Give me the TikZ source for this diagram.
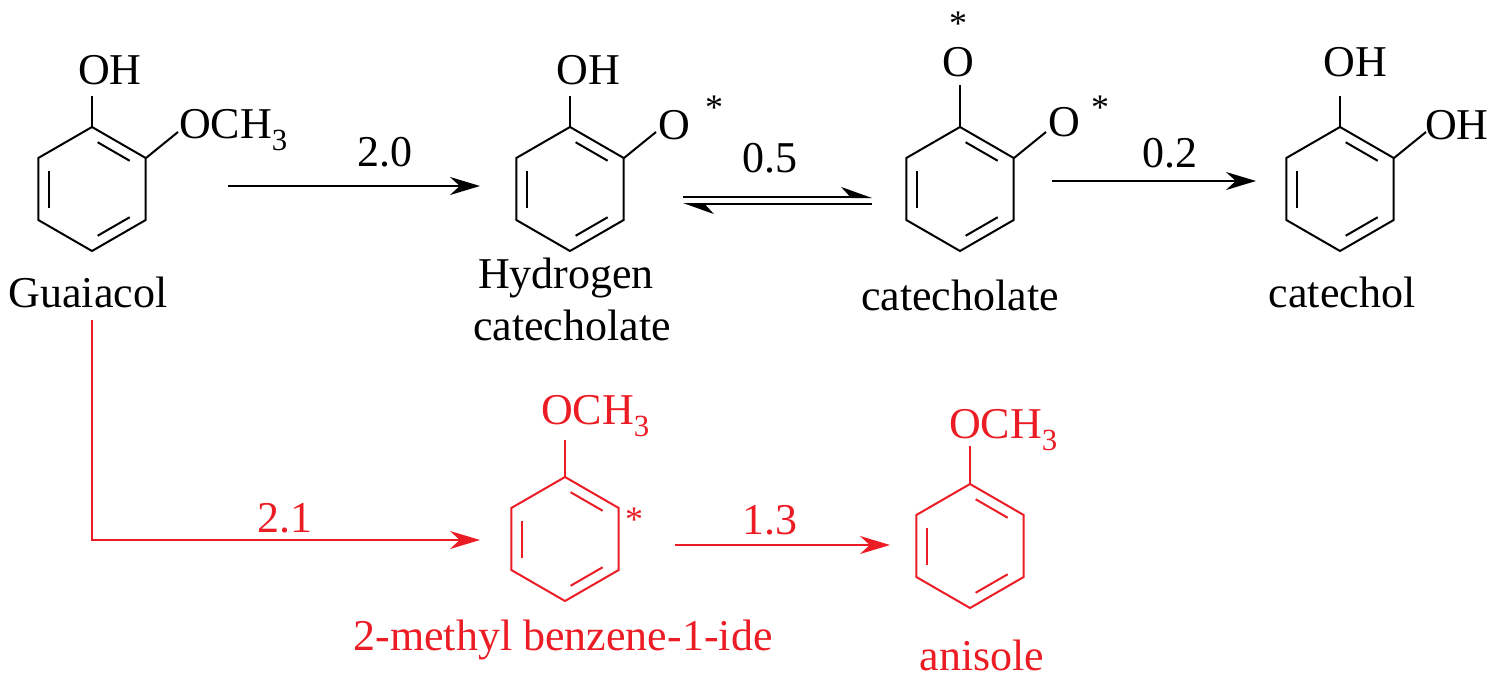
\documentclass[tikz,border=0pt]{standalone}
\usepackage{fontspec}
\setmainfont{Liberation Serif}
\usetikzlibrary{calc,arrows.meta}
\definecolor{rd}{RGB}{236,28,36}
\newcommand\ringat[2]{%
\begin{scope}[shift={#1},#2]
\draw (90:62)--(30:62)--(-30:62)--(-90:62)--(-150:62)--(150:62)--cycle;
\foreach \a/\b in {150/210,270/330,30/90}{
\draw ($(\a:50)!0.13!(\b:50)$)--($(\b:50)!0.13!(\a:50)$);}
\end{scope}}
\newcommand\och{OCH\textsubscript{3}}
\begin{document}
\begin{tikzpicture}[x=1pt,y=-1pt,line width=2pt,
 lbl/.style={font=\fontsize{44}{48}\selectfont,inner sep=0pt},
 sm/.style={font=\fontsize{36}{38}\selectfont,inner sep=0pt},
 arr/.style={-{Stealth[length=30pt,width=18pt]}},
 red/.style={draw=rd,text=rd,color=rd}]
\useasboundingbox (0,0) rectangle (1496,680);
% Guaiacol
\ringat{(92,189)}{}
\draw (92,127)--(92,96);
\node[lbl] (g1) at (110,70) {OH};
\draw (146,158)--(178,132);
\node[lbl,anchor=west] (g2) at (178,130) {\och};
\node[lbl] (guai) at (88,292) {Guaiacol};
% Hydrogen catecholate
\ringat{(570,189)}{}
\draw (570,127)--(570,96);
\node[lbl] (h1) at (588,70) {OH};
\draw (624,158)--(656,132);
\node[lbl] (h2) at (674,125) {O};
\node[sm] at (714,108) {*};
\node[lbl] (hc1) at (566,278) {Hydrogen};
\node[lbl] (hc2) at (572,325) {catecholate};
% catecholate
\ringat{(960,189)}{}
\draw (960,127)--(960,85);
\node[lbl] (c1) at (958,62) {O};
\node[sm] at (958,24) {*};
\draw (1014,158)--(1046,132);
\node[lbl] (c2) at (1064,122) {O};
\node[sm] at (1100,108) {*};
\node[lbl] (cat) at (960,295) {catecholate};
% catechol
\ringat{(1340,189)}{}
\draw (1340,127)--(1340,96);
\node[lbl] (k1) at (1355,62) {OH};
\draw (1394,158)--(1426,132);
\node[lbl,anchor=west] (k2) at (1424,125) {OH};
\node[lbl] (catl) at (1342,292) {catechol};
% arrows top
\coordinate (a1) at (228,186); \coordinate (a2) at (480,186);
\draw[arr] (a1)--(a2);
\node[lbl] at (385,152) {2.0};
\coordinate (e1) at (683,197); \coordinate (e2) at (872,197);
\coordinate (e3) at (872,204); \coordinate (e4) at (683,204);
\draw[-{Stealth[left,length=28pt,width=20pt]}] (e1)--(e2);
\draw[-{Stealth[left,length=28pt,width=20pt]}] (e3)--(e4);
\node[lbl] at (770,158) {0.5};
\coordinate (b1) at (1052,181); \coordinate (b2) at (1256,181);
\draw[arr] (b1)--(b2);
\node[lbl] at (1170,153) {0.2};
% red
\begin{scope}[red]
\ringat{(565,539)}{rd}
\draw (565,477)--(565,440);
\node[lbl,anchor=west] (r1) at (540,416) {\och};
\node[sm] at (634,520) {*};
\node[lbl] (rl) at (563,640) {2-methyl benzene-1-ide};
\ringat{(970,546)}{rd}
\draw (970,484)--(970,446);
\node[lbl,anchor=west] (s1) at (948,430) {\och};
\node[lbl] (sl) at (982,655) {anisole};
\coordinate (p1) at (92,320); \coordinate (p2) at (480,540);
\draw[arr] (p1)|-(p2);
\node[lbl] at (285,518) {2.1};
\coordinate (q1) at (675,545); \coordinate (q2) at (890,545);
\draw[arr] (q1)--(q2);
\node[lbl] at (770,520) {1.3};
\end{scope}
\end{tikzpicture}
\end{document}
